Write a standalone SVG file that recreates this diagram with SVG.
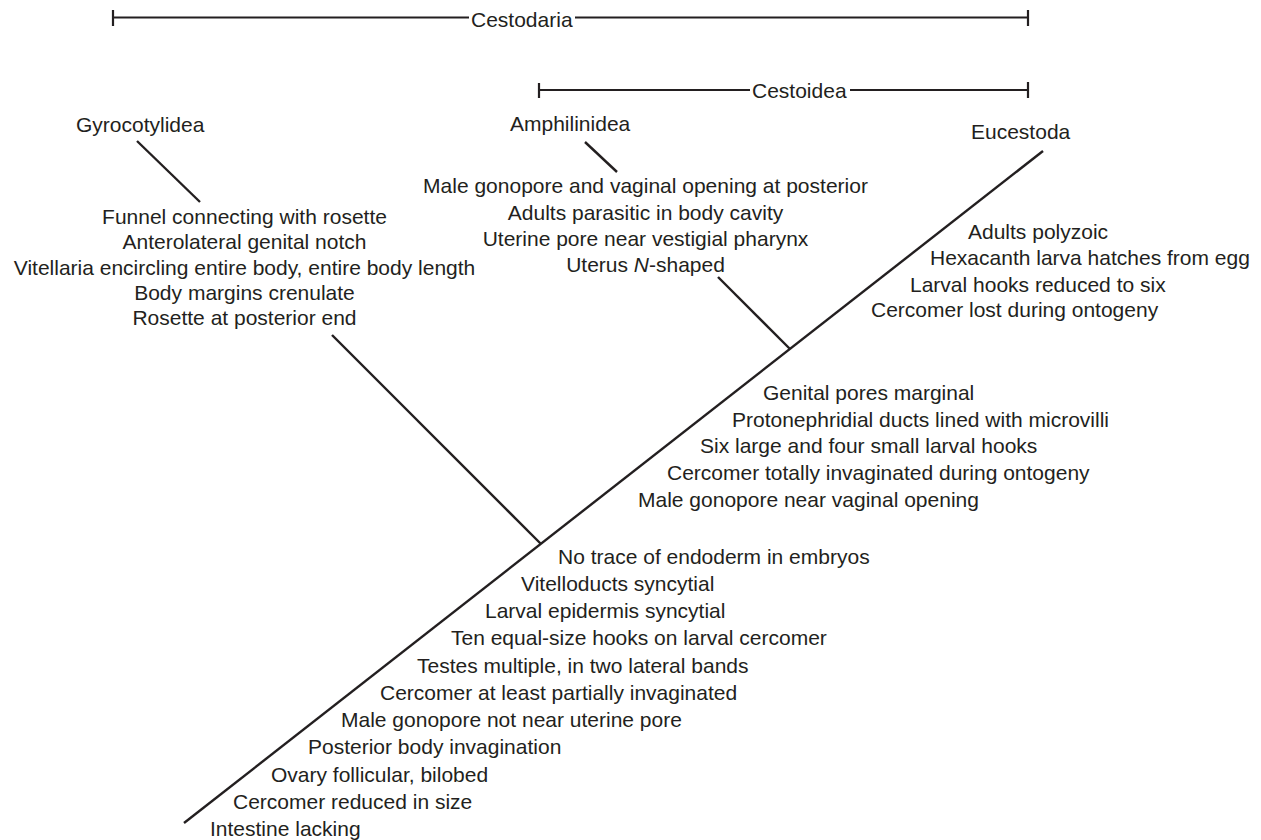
<svg xmlns="http://www.w3.org/2000/svg" width="1261" height="840" viewBox="0 0 1261 840">
<style>
text{font-family:"Liberation Sans",Arial,Helvetica,sans-serif;font-size:21px;fill:#231f20}
.c{text-anchor:middle}
.ln{stroke:#231f20;stroke-width:2.4;fill:none;stroke-linecap:butt}
.bar{stroke:#231f20;stroke-width:2.2;fill:none}
</style>
<rect width="1261" height="840" fill="#ffffff"/>
<g id="bar-cestodaria">
<path class="bar" d="M113,17.5H469M575,17.5H1028M113,10V26M1028,10V26"/>
<text x="471" y="26.5">Cestodaria</text>
</g>
<g id="bar-cestoidea">
<path class="bar" d="M539,90H750M850,90H1028M539,83V98M1028,82V98"/>
<text x="752" y="97.5">Cestoidea</text>
</g>
<g id="connectors">
<line class="ln" x1="184" y1="823" x2="1043" y2="151"/>
<line class="ln" x1="332" y1="335" x2="541" y2="544"/>
<line class="ln" x1="718" y1="277" x2="790" y2="349"/>
<line class="ln" x1="137" y1="141" x2="200" y2="202"/>
<line class="ln" x1="585" y1="142" x2="617" y2="172"/>
</g>
<g id="gyrocotylidea">
<text x="76" y="131.5">Gyrocotylidea</text>
<text class="c" x="244.5" y="224">Funnel connecting with rosette</text>
<text class="c" x="244.5" y="249.3">Anterolateral genital notch</text>
<text class="c" x="244.5" y="274.6">Vitellaria encircling entire body, entire body length</text>
<text class="c" x="244.5" y="300">Body margins crenulate</text>
<text class="c" x="244.5" y="325.3">Rosette at posterior end</text>
</g>
<g id="amphilinidea">
<text x="510" y="130.7">Amphilinidea</text>
<text class="c" x="645.5" y="193.3">Male gonopore and vaginal opening at posterior</text>
<text class="c" x="645.5" y="219.5">Adults parasitic in body cavity</text>
<text class="c" x="645.5" y="245.8">Uterine pore near vestigial pharynx</text>
<text class="c" x="645.5" y="271.8">Uterus <tspan font-style="italic">N</tspan>-shaped</text>
</g>
<g id="eucestoda">
<text x="971" y="139.3">Eucestoda</text>
<text x="968" y="239">Adults polyzoic</text>
<text x="930" y="265">Hexacanth larva hatches from egg</text>
<text x="910" y="291.5">Larval hooks reduced to six</text>
<text x="871" y="317.3">Cercomer lost during ontogeny</text>
</g>
<g id="cestoidea-node">
<text x="763" y="400">Genital pores marginal</text>
<text x="732" y="427">Protonephridial ducts lined with microvilli</text>
<text x="700" y="453.3">Six large and four small larval hooks</text>
<text x="667" y="480">Cercomer totally invaginated during ontogeny</text>
<text x="638" y="506.7">Male gonopore near vaginal opening</text>
</g>
<g id="cestodaria-node">
<text x="558" y="563.5">No trace of endoderm in embryos</text>
<text x="521" y="590.5">Vitelloducts syncytial</text>
<text x="485" y="618">Larval epidermis syncytial</text>
<text x="451" y="644.7">Ten equal-size hooks on larval cercomer</text>
<text x="417" y="672.7">Testes multiple, in two lateral bands</text>
<text x="380" y="699.5">Cercomer at least partially invaginated</text>
<text x="341" y="727">Male gonopore not near uterine pore</text>
<text x="308" y="754.3">Posterior body invagination</text>
<text x="271" y="781.7">Ovary follicular, bilobed</text>
<text x="233" y="809">Cercomer reduced in size</text>
<text x="210" y="836.3">Intestine lacking</text>
</g>
</svg>
